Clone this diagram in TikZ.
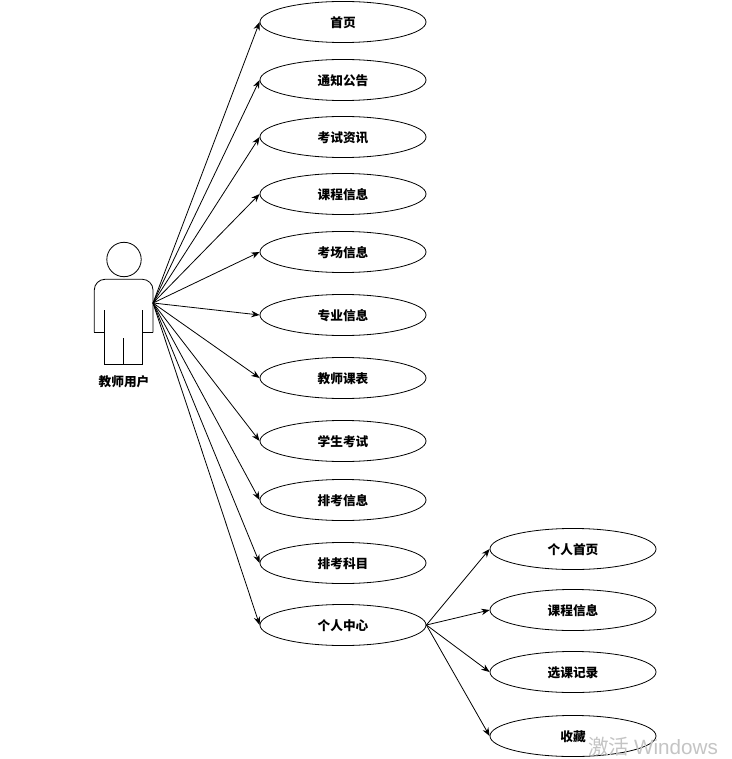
\documentclass[tikz,border=0pt]{standalone}
\usepackage{fontspec}
\setmainfont{Noto Sans CJK SC}
\newfontfamily\latinfont{Liberation Sans}
\usetikzlibrary{shapes.geometric, arrows.meta, positioning}
\definecolor{markgray}{HTML}{C4C4C4}

\begin{document}
\begin{tikzpicture}[
    x=0.75pt, y=-0.75pt,
    every node/.style={font=\fontsize{9.5pt}{11pt}\selectfont\bfseries},
    usecase/.style={draw, ellipse, minimum width=124.5pt, minimum height=30.8pt, inner sep=0pt, line width=0.6pt, text height=10pt, text depth=1.2pt},
    link/.style={-{Stealth[length=2.2mm, width=1.7mm]}, line width=0.6pt},
    figure/.style={line width=0.6pt, line cap=rect}
]
    \useasboundingbox (0,0) rectangle (731,759);

    % actor
    \node[draw, circle, figure, minimum size=25.8pt, inner sep=0pt] (head) at (124,259.5) {};
    \draw[figure, rounded corners=8pt] (94.3,332) -- (94.3,279.3) -- (153,279.3) -- (153,332);
    \draw[figure] (94.3,332) -- (104.3,332);
    \draw[figure] (153,332) -- (142.7,332);
    \draw[figure] (104.3,310) -- (104.3,364.3) -- (142.7,364.3) -- (142.7,310);
    \draw[figure] (123.7,338) -- (123.7,364.3);
    \node (teacher) at (124,382) {教师用户};
    \coordinate (hand) at (153,303);

    % left column
    \node[usecase] (home) at (343,22) {首页};
    \node[usecase] (notice) at (343,80) {通知公告};
    \node[usecase] (news) at (343,137) {考试资讯};
    \node[usecase] (course) at (343,194) {课程信息};
    \node[usecase] (room) at (343,252) {考场信息};
    \node[usecase] (major) at (343,315) {专业信息};
    \node[usecase] (timetable) at (343,378) {教师课表};
    \node[usecase] (exam) at (343,441) {学生考试};
    \node[usecase] (arrange) at (343,500) {排考信息};
    \node[usecase] (subject) at (343,563) {排考科目};
    \node[usecase] (center) at (343,625) {个人中心};

    % right column
    \node[usecase] (profile) at (573,549) {个人首页};
    \node[usecase] (mycourse) at (573,610) {课程信息};
    \node[usecase] (record) at (573,672) {选课记录};
    \node[usecase] (favorite) at (573,736) {收藏};

    \draw[link] (hand) -- (home.west);
    \draw[link] (hand) -- (notice.west);
    \draw[link] (hand) -- (news.west);
    \draw[link] (hand) -- (course.west);
    \draw[link] (hand) -- (room.west);
    \draw[link] (hand) -- (major.west);
    \draw[link] (hand) -- (timetable.west);
    \draw[link] (hand) -- (exam.west);
    \draw[link] (hand) -- (arrange.west);
    \draw[link] (hand) -- (subject.west);
    \draw[link] (hand) -- (center.west);

    \draw[link] (center.east) -- (profile.west);
    \draw[link] (center.east) -- (mycourse.west);
    \draw[link] (center.east) -- (record.west);
    \draw[link] (center.east) -- (favorite.west);

    \node[font=\fontsize{15.5pt}{17pt}\selectfont, color=markgray, inner sep=0pt] (mark) at (653,747) {激活 {\latinfont Windows}};
\end{tikzpicture}
\end{document}
